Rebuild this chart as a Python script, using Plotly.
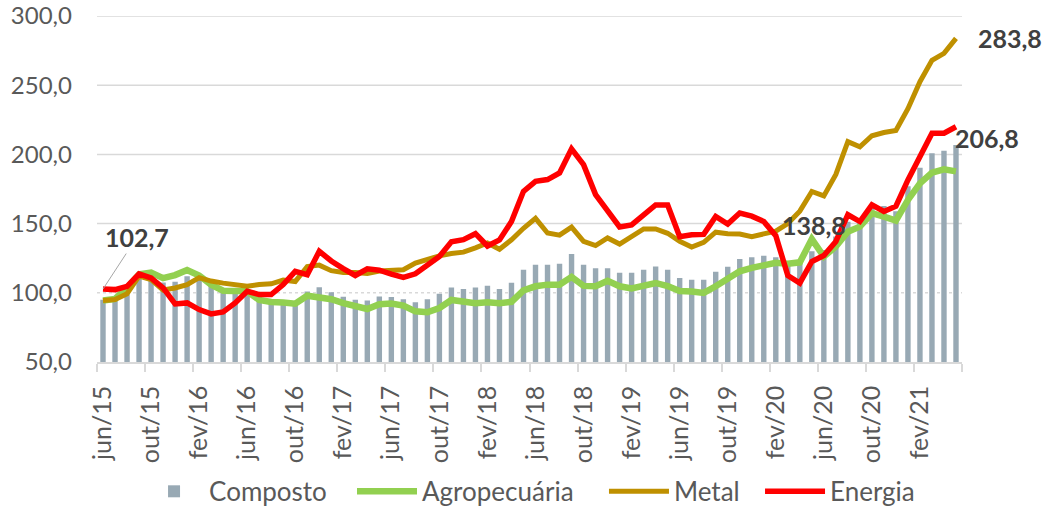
import plotly.graph_objects as go

# --- categories (monthly, jun/15 .. mai/21) ---
month_names = ["jan", "fev", "mar", "abr", "mai", "jun", "jul", "ago", "set", "out", "nov", "dez"]
meses = []
for k in range(72):
    m = (5 + k) % 12
    y = 15 + (5 + k) // 12
    meses.append(f"{month_names[m]}/{y}")

composto = [95.0, 94.5, 99.0, 111.0, 111.5, 107.5, 108.0, 112.0, 109.5, 105.5,
            102.3, 99.7, 101.5, 99.0, 93.9, 93.0, 92.2, 101.0, 104.0, 100.4,
            97.2, 95.0, 94.4, 97.3, 97.0, 95.4, 93.2, 95.4, 99.3, 103.9,
            102.7, 103.9, 105.1, 102.7, 107.2, 116.7, 120.2, 120.2, 121.0, 128.0,
            120.2, 117.8, 117.8, 114.4, 114.4, 116.7, 119.0, 116.7, 110.7, 109.5,
            109.5, 115.2, 118.8, 124.5, 125.7, 126.8, 125.7, 122.3, 122.7, 130.0,
            131.0, 140.6, 151.4, 152.0, 162.0, 162.8, 159.0, 177.0, 190.3, 200.8,
            202.7, 206.8]

agropecuaria = [94.5, 95.6, 103.5, 113.3, 114.6, 110.6, 112.8, 116.5, 112.5, 105.9,
                101.5, 101.1, 101.1, 94.8, 93.3, 93.0, 92.1, 97.9, 96.7, 95.4,
                92.5, 89.9, 88.3, 91.8, 92.3, 90.8, 86.6, 85.9, 89.0, 94.8,
                93.5, 92.4, 93.1, 92.4, 93.5, 101.8, 104.7, 105.9, 105.9, 111.5,
                105.0, 104.7, 108.6, 104.7, 103.1, 105.6, 107.1, 104.9, 101.3, 101.0,
                99.9, 104.7, 110.0, 115.5, 118.0, 120.3, 121.7, 121.0, 122.0, 138.8,
                126.2, 133.4, 144.2, 147.8, 157.5, 155.0, 152.2, 167.1, 179.1, 186.8,
                189.2, 187.7]

metal = [94.5, 95.2, 99.3, 112.0, 109.5, 102.0, 103.5, 105.9, 111.0, 108.5,
         107.0, 105.7, 104.7, 106.0, 106.5, 109.2, 108.1, 119.0, 120.0, 116.0,
         114.6, 114.6, 114.0, 115.8, 116.5, 116.7, 121.5, 124.3, 126.7, 128.4,
         129.4, 132.5, 136.0, 131.5, 138.3, 146.6, 153.8, 143.2, 141.7, 147.5,
         137.2, 134.1, 139.6, 135.2, 140.8, 146.1, 146.1, 143.0, 137.2, 133.1,
         136.4, 143.8, 142.7, 142.5, 140.6, 143.0, 144.5, 150.0, 159.0, 173.2,
         170.0, 185.5, 209.2, 205.5, 213.5, 215.8, 217.3, 233.0, 252.5, 268.0,
         273.0, 283.8]

energia = [102.7, 102.3, 104.7, 113.6, 110.7, 103.5, 92.0, 92.7, 87.9, 84.8,
           86.2, 92.7, 101.1, 98.7, 98.7, 105.9, 115.5, 113.1, 130.0, 123.0,
           117.5, 112.5, 117.3, 116.3, 113.5, 111.2, 113.7, 120.3, 126.3, 136.8,
           138.4, 142.7, 133.8, 138.2, 151.5, 173.3, 180.5, 181.8, 186.6, 204.0,
           192.6, 171.0, 159.5, 147.6, 149.0, 156.7, 163.5, 163.5, 140.5, 142.0,
           142.2, 155.1, 149.7, 157.6, 155.4, 151.5, 141.3, 112.5, 107.0, 122.6,
           127.0, 137.1, 156.4, 151.5, 163.5, 158.8, 162.6, 181.6, 199.0, 215.3,
           215.3, 220.0]

y_ticks = [50, 100, 150, 200, 250, 300]

FONT = "Lato"
GRAY_TXT = "#595959"
GRID = "#d9d9d9"
LABEL_TXT = "#404040"

fig = go.Figure()
fig.add_trace(go.Bar(x=meses, y=composto, name="Composto", legend="legend",
                     marker=dict(color="#98a9b4", line=dict(width=0))))
fig.add_trace(go.Scatter(x=meses, y=agropecuaria, name="Agropecuária", mode="lines",
                         legend="legend2", line=dict(color="#92d050", width=6.5)))
fig.add_trace(go.Scatter(x=meses, y=metal, name="Metal", mode="lines",
                         legend="legend3", line=dict(color="#bf9000", width=5)))
fig.add_trace(go.Scatter(x=meses, y=energia, name="Energia", mode="lines",
                         legend="legend4", line=dict(color="#ff0000", width=5.5)))

# horizontal gridlines (100 is dotted in the original)
for v in y_ticks[1:]:
    fig.add_hline(y=v, line=dict(color=GRID, width=1.5, dash="dot" if v == 100 else "solid"),
                  layer="below")

# data labels
lab_font = dict(family=FONT, size=25, color=LABEL_TXT)
fig.add_annotation(x=meses[0], y=energia[0], text="<b>102,7</b>", showarrow=True,
                   arrowhead=0, arrowwidth=1, arrowcolor="#a6a6a6", ax=34, ay=-52,
                   font=lab_font)
fig.add_annotation(x=meses[-1], y=metal[-1], text="<b>283,8</b>", showarrow=False,
                   xanchor="left", yanchor="middle", xshift=20, font=lab_font)
fig.add_annotation(x=meses[-1], y=composto[-1], text="<b>206,8</b>", showarrow=False,
                   xanchor="left", yanchor="middle", xshift=-3, yshift=7, font=lab_font)
fig.add_annotation(x=meses[59], y=agropecuaria[59], text="<b>138,8</b>", showarrow=False,
                   xanchor="center", yanchor="middle", xshift=2, yshift=14, font=lab_font)
fig.add_annotation(xref="paper", yref="paper", x=-0.08, y=-0.405, xanchor="left",
                   yanchor="top", text="<b>Fonte: BCB</b>", showarrow=False,
                   font=dict(family=FONT, size=20, color="#000000"))

leg_common = dict(orientation="h", y=-0.374, yanchor="middle", xanchor="left",
                  font=dict(family=FONT, size=26, color=GRAY_TXT), itemwidth=60,
                  bgcolor="rgba(0,0,0,0)", borderwidth=0)

fig.update_layout(
    width=1058, height=506,
    margin=dict(l=97, r=96, t=16, b=143.5, autoexpand=False),
    paper_bgcolor="white", plot_bgcolor="white",
    separators=",.",
    bargap=0.55,
    showlegend=True,
    legend=dict(x=0.0486, **leg_common),
    legend2=dict(x=0.2948, **leg_common),
    legend3=dict(x=0.5861, **leg_common),
    legend4=dict(x=0.7665, **leg_common),
    xaxis=dict(type="category", range=[-0.5, 71.5], autorange=False, automargin=False,
               tickmode="linear", tick0=0, dtick=4,
               tickson="boundaries", ticks="outside", ticklen=8, tickcolor=GRID,
               tickwidth=1.5, tickangle=-90, showgrid=False, showline=True,
               linecolor=GRID, linewidth=1.5, ticklabelstandoff=12,
               ticklabeloverflow="allow",
               tickfont=dict(family=FONT, size=25, color=GRAY_TXT)),
    yaxis=dict(range=[50, 300], autorange=False, automargin=False, tickvals=y_ticks,
               tickformat=".1f", showgrid=False, ticklabeloverflow="allow",
               zeroline=False, showline=False, ticks="", ticklabelstandoff=24,
               tickfont=dict(family=FONT, size=24, color=GRAY_TXT)),
)

fig.write_html("out.html", config={"displayModeBar": False},
               post_script="document.body.style.margin='0';document.body.style.padding='0';")
